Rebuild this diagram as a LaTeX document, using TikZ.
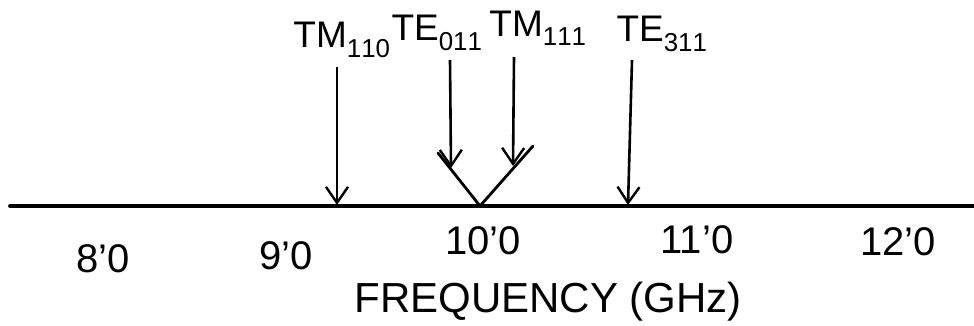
\documentclass[tikz,border=0pt]{standalone}
\usepackage{fontspec}
\setmainfont{Liberation Sans}
\usetikzlibrary{arrows.meta}
\tikzset{
  axisline/.style={line width=3.8pt, line cap=round},
  modearrow/.style={line width=2.6pt, -{Straight Barb[length=16pt,width=22pt,line width=2.4pt]}},
  vline/.style={line width=2.8pt, line cap=round},
  modelabel/.style={inner sep=0pt, font=\fontsize{37}{40}\selectfont},
  ticklabel/.style={inner sep=0pt, font=\fontsize{40}{44}\selectfont},
  axistitle/.style={inner sep=0pt, font=\fontsize{42}{46}\selectfont}
}
\begin{document}
\begin{tikzpicture}[x=1pt,y=-1pt]
\useasboundingbox (0,0) rectangle (974,326);
% axis
\coordinate (axL) at (10,206);
\coordinate (axR) at (974,206);
\draw[axisline] (axL) -- (axR);
% labels
\node[modelabel] (tm110) at (342,40) {TM$_{\mathrm{110}}$};
\node[modelabel] (te011) at (437,33) {TE$_{\mathrm{011}}$};
\node[modelabel] (tm111) at (538,28) {TM$_{\mathrm{111}}$};
\node[modelabel] (te311) at (662,34) {TE$_{\mathrm{311}}$};
% arrow coordinates
\coordinate (a1s) at (337,67);  \coordinate (a1e) at (337,205);
\coordinate (a2s) at (450,60);  \coordinate (a2e) at (451,168);
\coordinate (a3s) at (514,57);  \coordinate (a3e) at (513,166);
\coordinate (a4s) at (632,60);  \coordinate (a4e) at (628,205);
\draw[modearrow] (a1s) -- (a1e);
\draw[modearrow] (a2s) -- (a2e);
\draw[modearrow] (a3s) -- (a3e);
\draw[modearrow] (a4s) -- (a4e);
% V shape
\coordinate (vl) at (438,153);
\coordinate (vb) at (480,206);
\coordinate (vr) at (533,146);
\draw[vline] (vl) -- (vb) -- (vr);
% tick labels
\node[ticklabel] (t8) at (103,259) {8'0};
\node[ticklabel] (t9) at (286,256) {9'0};
\node[ticklabel] (t10) at (483,241) {10'0};
\node[ticklabel] (t11) at (697,240) {11'0};
\node[ticklabel] (t12) at (898,242) {12'0};
% axis title
\node[axistitle] (title) at (548,302) {FREQUENCY (GHz)};
\end{tikzpicture}
\end{document}
